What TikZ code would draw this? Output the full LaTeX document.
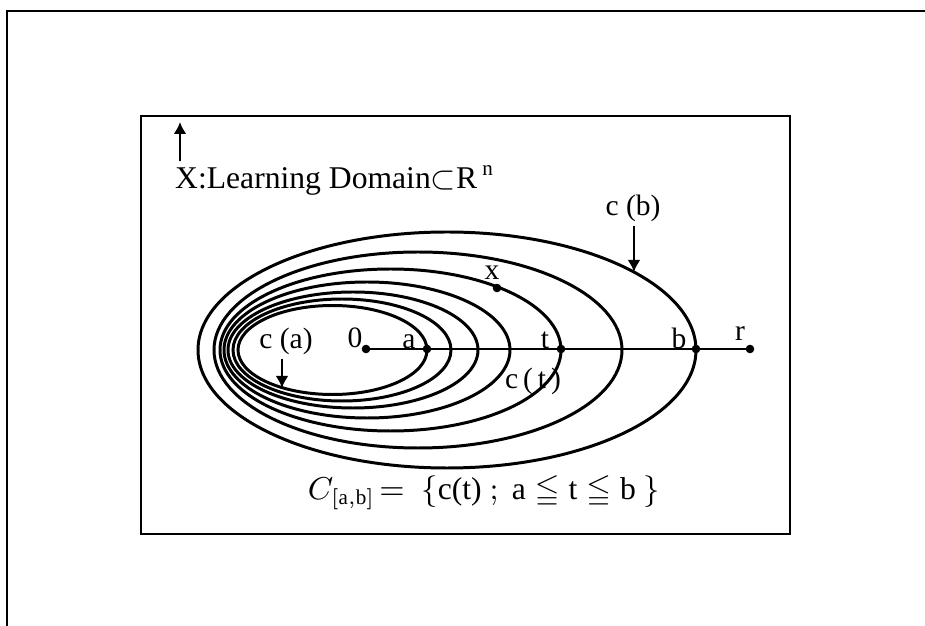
\documentclass[tikz,border=0pt]{standalone}
\usepackage{amsmath}
\usepackage{amssymb}
\usepackage{fontspec}
\setmainfont{Liberation Serif}
\usetikzlibrary{arrows.meta}
\tikzset{
	curve/.style  ={line width=0.85pt},
	frame/.style  ={line width=0.75pt},
	pointer/.style={-{Latex[length=1.2mm, width=1.3mm]}, line width=0.8pt},
	lbl/.style    ={inner sep=1pt, font=\fontsize{8.4}{9}\selectfont},
	% larger texts inside the box
	caption/.style={inner sep=1pt, font=\fontsize{9}{11}\selectfont},
}
\begin{document}
\begin{tikzpicture}[x=0.1mm, y=-0.1mm]
	\useasboundingbox (0,0) rectangle (925,626);
	\draw[frame, line width=0.6pt] (7,626) -- (7,11) -- (925,11);
	\draw[frame] (141,116) rectangle (790,534);
	% nested curves, c(a) inside ... c(b) outside
	\foreach \cx/\rx/\ry in {332.5/94.5/44.5, 342/109/51, 353/125/58, 367/143/68, 390.5/170.5/81, 418/204/98, 447/249/118}
		\draw[curve] (\cx,350) ellipse ({\rx} and {\ry});
	\coordinate (o)  at (366,349);
	\coordinate (ea) at (427,349);
	\coordinate (et) at (561,349);
	\coordinate (eb) at (696,349);
	\coordinate (er) at (750,349);
	\coordinate (ex) at (497,288);
	\draw[curve] (o) -- (er);
	\foreach \p in {o,ea,et,eb,er,ex} \fill (\p) circle (4.3);
	\node[lbl] (lo) at (355,338) {0};
	\node[lbl] (la) at (409,342) {a};
	\node[lbl] (lt) at (545,340) {t};
	\node[lbl] (lb) at (679,338) {b};
	\node[lbl] (lr) at (740,334) {r};
	\node[lbl] (lx) at (492,273) {x};
	\node[caption, anchor=base west] (domain) at (171,189) {X:Learning Domain$\subset$R\,\textsuperscript{n}};
	\coordinate (uptip) at (180,122);
	\draw[pointer] (uptip |- domain.north) -- (uptip);
	\node[lbl] (ca) at (286,341) {c (a)};
	\coordinate (catip) at (282,388);
	\draw[pointer] (catip |- ca.south) -- (catip);
	\node[lbl] (cb) at (633,208) {c (b)};
	\coordinate (cbtip) at (634,272);
	\draw[pointer] (cbtip |- cb.south) -- (cbtip);
	\node[lbl] (ct) at (533,381) {c\,(\,t\,)};
	\node[caption] (setdef) at (484,493) {$C_{[\mathrm{a,b}]}\!=\ \{\text{c(t)}\ ;\ \text{a}\leqq\text{t}\leqq\text{b}\ \}$};
\end{tikzpicture}
\end{document}
